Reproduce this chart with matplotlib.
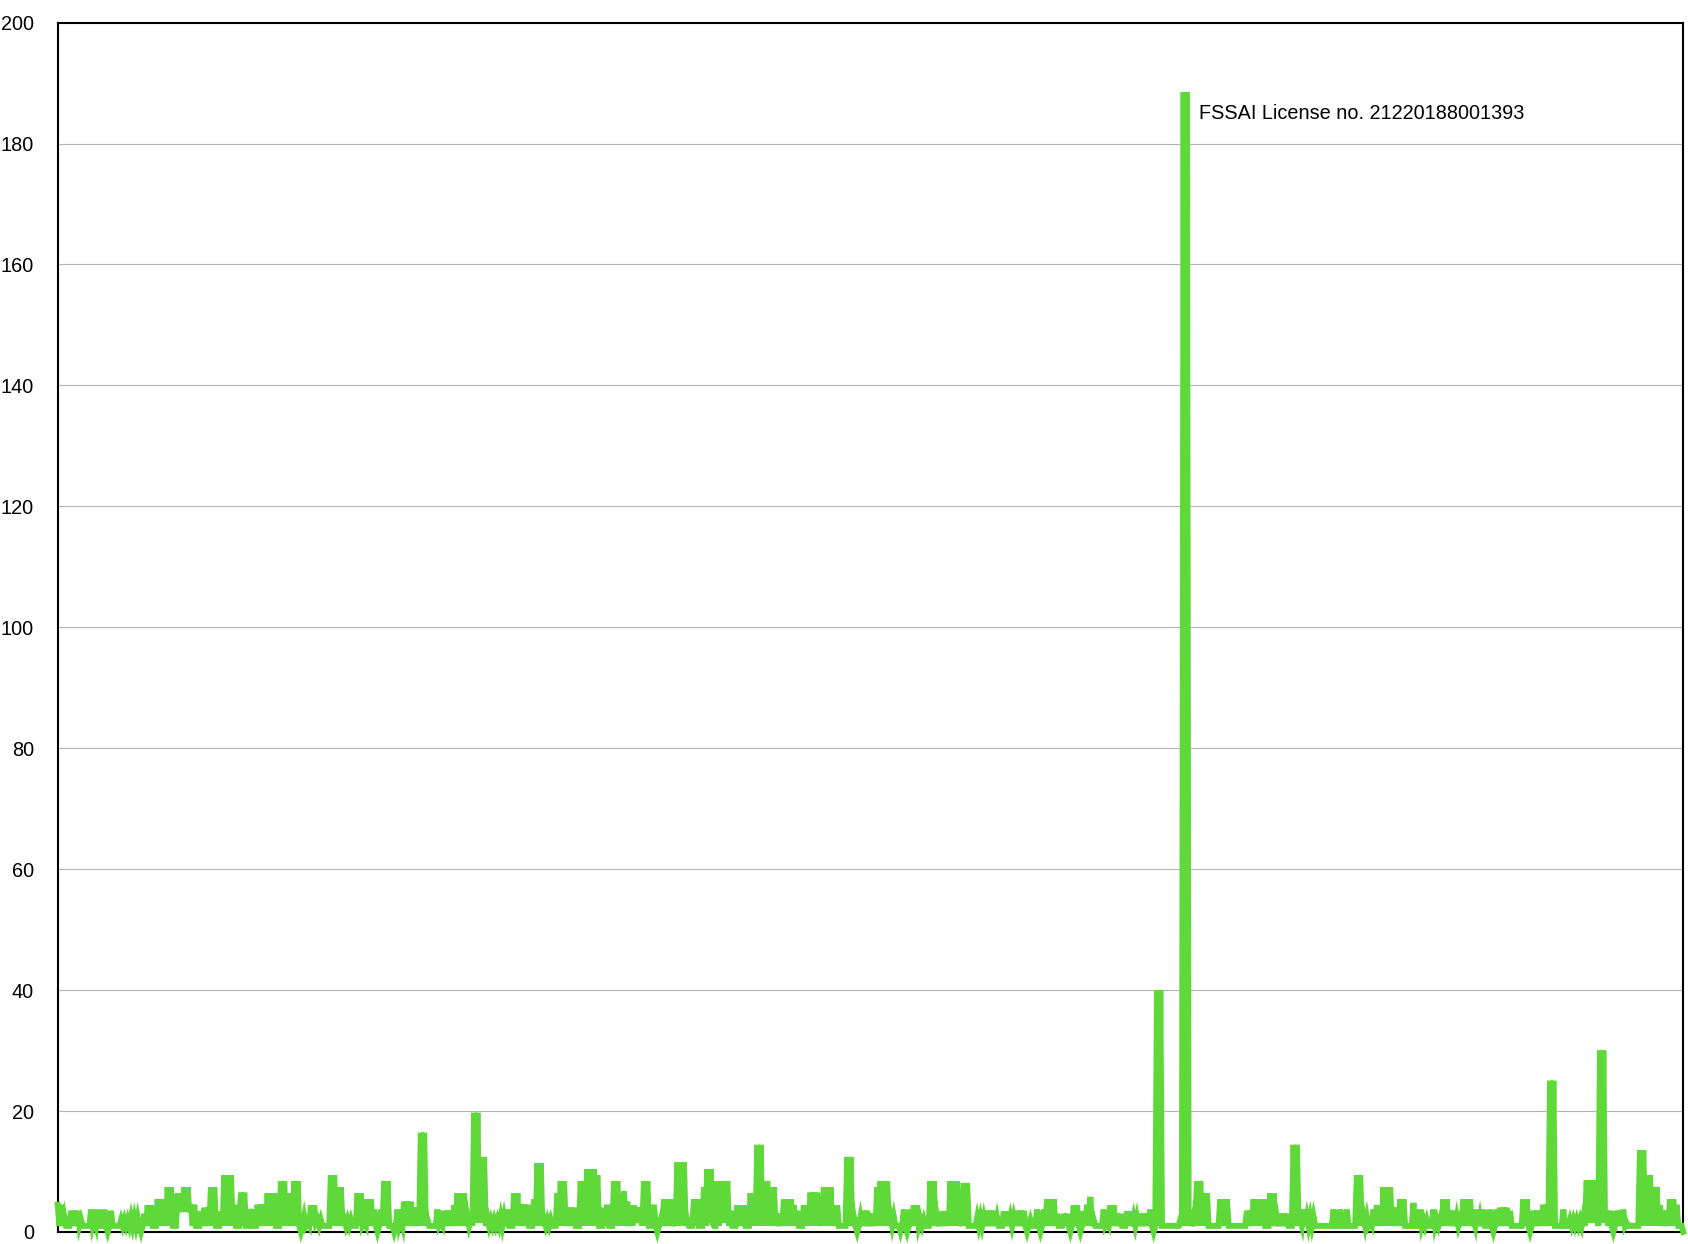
import numpy as np
import matplotlib
matplotlib.use("Agg")
import matplotlib.pyplot as plt

# peak values, left to right, in chunks
seg1 = [4.5, 4.5, 2.5, 1, 3.5, 3.5, 3.5, 2, 1, 1,
        3.7, 2, 3.7, 1, 3.7, 0, 3.5, 1, 1, 2,
        2, 2, 2.4, 2.4, 2.4, 0, 3, 4.4, 4.4, 1,
        5.4, 5.4, 5.4, 7.4, 7.4, 1, 6.4, 6.4, 7.4, 7.4,
        4.5, 4.5, 1, 3.4, 4, 4, 7.4, 7.4, 1, 3.4,
        9.4, 9.4, 9.4, 4.5, 1, 6.5, 6.5, 1, 3.8, 1,
        4.5]
seg2 = [4.5, 4.5, 6.4, 6.4, 6.4, 1, 8.4, 8.4, 6.4, 6.4,
        8.4, 8.4, 0, 2.5, 1.5, 4.4, 4.4, 2, 2, 1,
        1, 9.4, 9.4, 7.4, 7.4, 2, 2, 2, 1, 6.4,
        6.4, 1.5, 5.4, 5.4, 3.7, 0, 3.7, 8.4, 8.4, 1,
        0, 3.7, 2, 5, 5, 5, 4, 4, 16.4, 16.4,
        2, 1, 1, 3.7, 1.5, 3.5, 3.5, 3.5, 4.4, 6.4]
seg3 = [6.4, 6.4, 2.5, 2, 19.7, 19.7, 12.4, 12.4, 2.3, 2,
        2, 2, 2.5, 2.5, 3.7, 1, 6.4, 6.4, 4.5, 4.5,
        4.5, 1, 5.4, 11.4, 11.4, 2, 2, 2, 1, 6.4,
        8.4, 8.4, 4, 4, 4, 1, 8.4, 8.4, 10.4, 10.4,
        10.4, 9.4, 1, 4, 4.5, 1, 8.4, 8.4, 4.5, 6.7,
        5, 4.4, 4.4, 4, 4, 8.4, 8.4, 1, 4.5, 0]
seg4 = [2, 5.4, 5.4, 5.4, 2.5, 11.5, 11.5, 11.5, 2, 1,
        5.4, 5.4, 1, 7.4, 10.4, 10.4, 1, 8.4, 8.4, 8.4,
        8.4, 3.5, 1, 4.4, 4.4, 4.4, 1, 6.4, 6.4, 14.4,
        14.4, 8.4, 8.4, 7.4, 7.4, 3, 3, 5.4, 5.4, 5.4,
        4.4, 3.5, 1, 4.4, 4.4, 6.5, 6.5, 6.5, 4.4, 7.4,
        7.4, 7.4, 4.4, 4.4, 1, 1, 12.4, 12.4, 2.5, 0]
seg5 = [2.5, 3.5, 3.5, 3, 3, 7.4, 8.4, 8.4, 8.4, 2.5,
        2.5, 1, 0, 3.7, 0, 3.7, 4.4, 4.4, 2, 2,
        1, 8.4, 8.4, 2.5, 3.4, 3.4, 3.4, 8.4, 8.4, 8.4,
        2.4, 8.1, 8.1, 1, 1, 2.4, 2.4, 2.4, 3.5, 3.5,
        3.5, 2.4, 1, 3.4, 3.4, 2.4, 2.4, 3.5, 3.5, 3.5,
        0, 2, 1, 3.7, 0, 3.7, 5.4, 5.4, 5.4, 3]
seg6 = [1, 3, 3, 0, 4.4, 4.4, 0, 3.4, 4.5, 5.8,
        2, 1, 1, 3.7, 1.5, 4.4, 4.4, 3, 3, 1,
        3.4, 3.4, 2.4, 2.4, 3, 3, 3, 3.7, 0, 40,
        40, 1, 1, 1, 1, 1, 2, 188.5, 188.5, 3.5,
        2.5, 8.4, 8.4, 6.4, 6.4, 1, 1, 1, 5.4, 5.4,
        5.4, 1, 1, 1, 1, 1, 3.5, 3.5, 5.4, 5.4]
seg7 = [5.4, 5.4, 1, 6.4, 6.4, 2.5, 3, 3, 3, 1,
        14.4, 14.4, 2, 3.7, 2.5, 2.5, 2.5, 1, 1, 1,
        1, 1, 3.7, 1, 3.7, 1, 3.7, 1, 1, 9.4,
        9.4, 2.5, 2.5, 1.5, 3.7, 4.4, 4.4, 7.4, 7.4, 7.4,
        4, 4, 5.4, 5.4, 1, 1, 4.8, 1, 3.7, 2,
        2, 1, 3.7, 2, 2, 5.4, 5.4, 3.5, 3.5, 2.5]
seg8 = [2, 5.4, 5.4, 5.4, 2, 3.7, 2.5, 3.7, 1, 3.7,
        0, 3.7, 4, 4, 4, 3.5, 1, 1, 1, 5.4,
        5.4, 0, 3.5, 3.5, 3.5, 4.5, 4.5, 25, 25, 1,
        1, 3.7, 1, 2, 2, 2, 2, 2.5, 8.5, 8.5,
        8.5, 3, 30, 30, 3.5, 3.5, 0, 3.5, 3.5, 3.7,
        1.5, 1, 1, 1, 13.5, 13.5, 9.4, 9.4, 7.4, 7.4,
        4.4, 3.5, 3.5, 5.4, 5.4, 4.5, 1, 0]

# the in-between low readings (the series drops back to ~1 after most points)
low1 = [1, 1, 1, 1, 1, 1, 1, 1, 1, 1,
        1, 1, 1, 1, 1, 1, 1, 1, 1, 1,
        1, 1, 1, 1, 1, 1, 1, 1, 1, 1,
        1, 1, 1, 1, 1, 1, 3.3, 3.3, 3.3, 3.3,
        1, 1, 1, 1, 1, 1, 1, 1, 1, 1,
        1, 1, 1, 1, 1, 1, 1, 1, 1, 1,
        1]
low2 = [1, 1, 1, 1, 1, 1, 1, 1, 1, 1,
        1, 1, 1, 1, 1, 1, 1.5, 1, 1, 1,
        1, 1, 1, 1, 1, 1, 1, 1, 1, 1,
        1, 1, 1, 1, 1, 1, 1, 1, 1, 1,
        1, 1, 1, 1, 1, 1, 1, 1, 1, 1,
        1, 1, 1, 1, 1, 1, 1, 1, 1, 1]
low3 = [1, 1, 1, 1, 1.5, 1.5, 1.5, 1, 1, 1,
        1, 1, 1, 1, 1, 1, 1, 1, 1, 1,
        1, 1, 1, 1, 1, 1, 1, 1, 1, 1,
        1, 1, 1, 1, 1, 1, 1, 1, 1, 1,
        1, 1, 1, 1, 1, 1, 1, 1, 1, 1,
        1, 1, 1.5, 1.5, 1, 1, 1, 1, 1, 1]
low4 = [1, 1, 1, 1, 1, 1, 1, 1, 1, 1,
        1, 1, 1, 1, 1.5, 1.5, 1, 1, 1.5, 1.5,
        1, 1, 1, 1, 1, 1, 1, 1, 1, 1,
        1, 1, 1, 1, 1, 1, 1, 1, 1, 1,
        1, 1, 1, 1, 1, 1, 1, 1, 1, 1,
        1, 1, 1, 1, 1, 1, 1, 1, 1, 1]
low5 = [1, 1, 1, 1, 1, 1, 1, 1, 1, 1,
        1, 1, 1, 1, 1, 1, 1, 1, 1, 1,
        1, 1, 1, 1, 1, 1, 1, 1, 1, 1,
        1, 1, 1, 1, 1, 1, 1, 1, 1, 1,
        1, 1, 1, 1, 1, 1, 1, 1, 1, 1,
        1, 1, 1, 1, 1, 1, 1, 1, 1, 1]
low6 = [1, 1, 1, 1, 1, 1, 1, 1, 1, 1,
        1, 1, 1, 1, 1, 1, 1, 1, 1, 1,
        1, 1, 1, 1, 1, 1, 1, 1, 1, 1,
        1, 1, 1, 1, 1, 1, 1, 1, 1, 1,
        1, 1, 1, 1, 1, 1, 1, 1, 1, 1,
        1, 1, 1, 1, 1, 1, 1, 1, 1, 1]
low7 = [1, 1, 1, 1, 1, 1, 1, 1, 1, 1,
        1, 1, 1, 1, 1, 1, 1, 1, 1, 1,
        1, 1, 1, 1, 1, 1, 1, 1, 1, 1,
        1, 1, 1, 1, 1, 1, 1, 1, 1, 1,
        1, 1, 1, 1, 1, 1, 1, 1, 1, 1,
        1, 1, 1, 1, 1, 1, 1, 1, 1, 1]
low8 = [1, 1, 1, 1, 1, 1, 1, 1, 1, 1,
        1, 1, 1, 1, 1, 1, 1, 1, 1, 1,
        1, 1, 1, 1, 1, 1, 1, 1, 1, 1,
        1, 1, 1, 1, 1, 1, 1, 1, 1.5, 1.5,
        1.5, 1, 1.5, 1.5, 1, 1, 1, 1, 1, 1,
        1, 1, 1, 1, 1, 1, 1, 1, 1, 1,
        1, 1, 1, 1, 1, 1, 1, 1]

label = "FSSAI License no. 21220188001393"
yticks = [0, 20, 40, 60, 80, 100, 120, 140, 160, 180, 200]

highs = np.array(seg1 + seg2 + seg3 + seg4 + seg5 + seg6 + seg7 + seg8)
lows = np.array(low1 + low2 + low3 + low4 + low5 + low6 + low7 + low8)
# reading order: each peak reading followed by its low reading
values = np.column_stack([highs, lows]).ravel()[:-1]
x = np.arange(len(values))

plt.rcParams['font.family'] = ['Liberation Sans', 'DejaVu Sans']

fig = plt.figure(figsize=(16.88, 12.44), dpi=100)
ax = fig.add_axes([0.0342, 0.0097, 0.9630, 0.9721])

ax.plot(x, values, color='#5fd93a', linewidth=4.3, solid_joinstyle='miter',
        clip_on=False, zorder=3)

ax.set_xlim(0, len(values) - 1)
ax.set_ylim(0, 200)
ax.set_yticks(yticks)
ax.set_xticks([])
ax.tick_params(axis='y', length=0, pad=17, labelsize=14.3)
ax.grid(axis='y', color='#b4b4b4', linewidth=0.8)
ax.set_axisbelow(True)
for s in ax.spines.values():
    s.set_linewidth(1.5)
    s.set_color('black')

peak = int(np.argmax(values))
ax.annotate(label, xy=(peak, values[peak]), xytext=(11, -19.6),
            textcoords='offset points', ha='left', va='baseline', fontsize=14.3)

fig.savefig("out.png", dpi=100)
